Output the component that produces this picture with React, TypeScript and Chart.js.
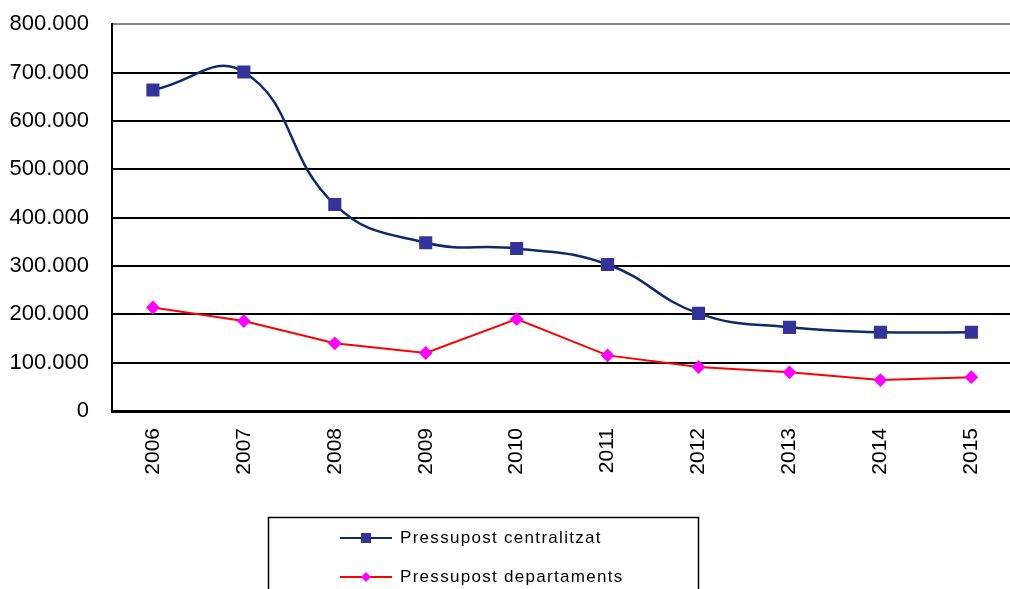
import React, { useEffect, useRef } from "react";
import { Chart, registerables } from "chart.js";

Chart.register(...registerables);

const years = ["2006", "2007", "2008", "2009", "2010", "2011", "2012", "2013", "2014", "2015"];
const centralitzat = [664000, 701000, 427000, 348000, 336000, 303000, 202000, 173000, 163000, 163000];
const departaments = [214000, 186000, 140000, 120000, 190000, 115000, 91000, 80000, 64000, 70000];
const seriesNames = ["Pressupost centralitzat", "Pressupost departaments"];

const FONT = "'Liberation Sans', Arial, sans-serif";
const SHIFT = 12;

function fmt(v: number): string {
  if (v === 0) return "0";
  const s = Math.round(v).toString();
  return s.replace(/\B(?=(\d{3})+(?!\d))/g, ".");
}

const legendPlugin = {
  id: "customLegend",
  afterDraw(chart: any) {
    const ctx = chart.ctx;
    ctx.save();
    ctx.strokeStyle = "#000";
    ctx.lineWidth = 1.5;
    ctx.strokeRect(268.5, 517.5 + SHIFT, 430, 100);
    const rows = [
      { y: 538 + SHIFT, line: "#0d2a6b", fill: "#333399", style: "rect", name: seriesNames[0] },
      { y: 577 + SHIFT, line: "#ff0000", fill: "#ff00ff", style: "rectRot", name: seriesNames[1] },
    ];
    rows.forEach((r) => {
      ctx.strokeStyle = r.line;
      ctx.lineWidth = 2;
      ctx.beginPath();
      ctx.moveTo(340, r.y);
      ctx.lineTo(392, r.y);
      ctx.stroke();
      ctx.fillStyle = r.fill;
      ctx.beginPath();
      if (r.style === "rect") {
        ctx.rect(361, r.y - 5, 10, 10);
      } else {
        ctx.moveTo(366, r.y - 5);
        ctx.lineTo(371, r.y);
        ctx.lineTo(366, r.y + 5);
        ctx.lineTo(361, r.y);
        ctx.closePath();
      }
      ctx.fill();
      ctx.fillStyle = "#000";
      ctx.font = `17px ${FONT}`;
      (ctx as any).letterSpacing = "1.3px";
      ctx.textBaseline = "middle";
      ctx.textAlign = "left";
      ctx.fillText(r.name, 400, r.y);
      (ctx as any).letterSpacing = "0px";
    });
    ctx.restore();
  },
};

export default function App() {
  const ref = useRef<HTMLCanvasElement>(null);
  useEffect(() => {
    if (!ref.current) return;
    const toPts = (arr: number[]) => arr.map((v, i) => ({ x: i, y: v }));
    const chart = new Chart(ref.current, {
      type: "line",
      data: {
        datasets: [
          {
            label: seriesNames[0],
            data: toPts(centralitzat),
            borderColor: "#0d2a6b",
            backgroundColor: "#333399",
            pointBackgroundColor: "#333399",
            pointBorderColor: "#333399",
            pointStyle: "rect",
            pointRadius: 7.5,
            borderWidth: 2.5,
            tension: 0.45,
          },
          {
            label: seriesNames[1],
            data: toPts(departaments),
            borderColor: "#ff0000",
            backgroundColor: "#ff00ff",
            pointBackgroundColor: "#ff00ff",
            pointBorderColor: "#ff00ff",
            pointStyle: "rectRot",
            pointRadius: 5.5,
            borderWidth: 2,
            tension: 0,
          },
        ],
      },
      options: {
        responsive: false,
        animation: false,
        devicePixelRatio: 1,
        layout: { padding: { left: 0, top: 13, right: 9, bottom: 0 } },
        plugins: { legend: { display: false }, tooltip: { enabled: false } },
        scales: {
          x: {
            type: "linear",
            min: -0.45,
            max: 9.535,
            grid: { display: false, drawTicks: false },
            border: { display: true, color: "#000", width: 3 },
            ticks: {
              stepSize: 1,
              color: "#000",
              font: { family: FONT, size: 21 },
              maxRotation: 90,
              minRotation: 90,
              padding: 17,
              autoSkip: false,
              callback: (v: any) => {
                const n = Number(v);
                return Number.isInteger(n) && years[n] !== undefined ? years[n] : "";
              },
            },
            afterFit: (s: any) => {
              s.height = 178;
              s.paddingLeft = 0;
              s.paddingRight = 0;
            },
          },
          y: {
            min: 0,
            max: 800000,
            grid: {
              drawTicks: false,
              lineWidth: 2,
              color: (c: any) => (c.tick && c.tick.value === 800000 ? "#888" : "#000"),
            },
            border: { display: true, color: "#000", width: 2 },
            ticks: {
              stepSize: 100000,
              color: "#000",
              font: { family: FONT, size: 22 },
              padding: 23,
              callback: (v: any) => fmt(Number(v)),
            },
            afterFit: (s: any) => {
              s.width = 112;
            },
          },
        },
      },
      plugins: [legendPlugin],
    });
    return () => chart.destroy();
  }, []);
  return (
    <div style={{ position: "fixed", left: 0, top: 0, width: 1010, height: 589, overflow: "hidden", background: "#fff" }}>
      <canvas
        ref={ref}
        width={1030}
        height={589 + SHIFT}
        style={{ width: 1030, height: 589 + SHIFT, display: "block", position: "absolute", left: 0, top: -SHIFT }}
      />
    </div>
  );
}
